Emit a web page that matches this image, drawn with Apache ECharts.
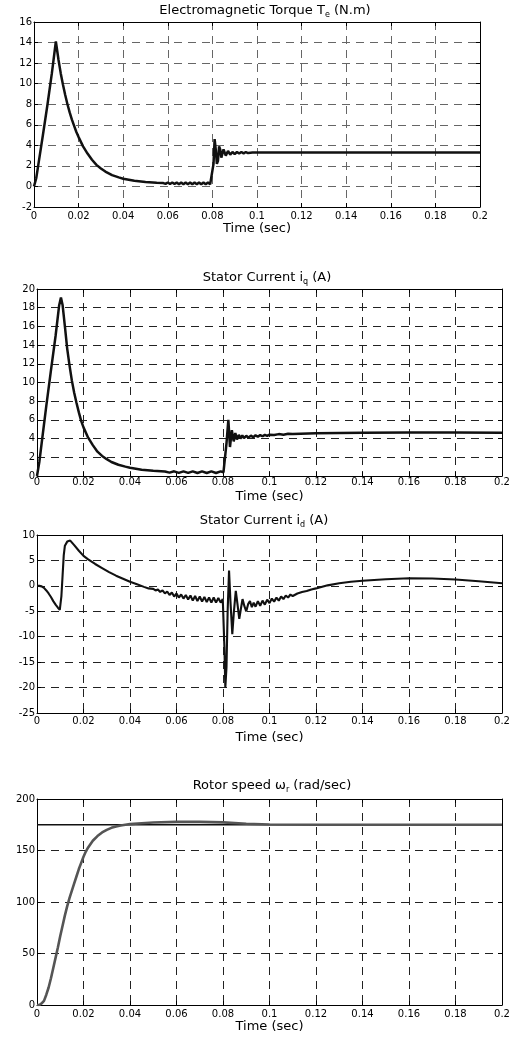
<!DOCTYPE html>
<html><head><meta charset="utf-8">
<script src="https://cdn.jsdelivr.net/npm/echarts@6/dist/echarts.min.js"></script>
<style>html,body{margin:0;padding:0;background:#fff}#c{width:513px;height:1037px}</style>
</head><body><div id="c"></div>
<script>
// ---------- data ----------
const torqueTime = [0,0.001,0.002,0.004,0.006,0.008,0.0098,0.011,0.012,0.013,0.014,0.015,0.016,0.017,0.018,0.019,0.020,0.022,0.024,0.026,0.028,0.030,0.032,0.035,0.038,0.040,0.045,0.050,0.055,0.058,
 0.059,0.060,0.061,0.062,0.063,0.064,0.065,0.066,0.067,0.068,0.069,0.070,0.071,0.072,0.073,0.074,0.075,0.076,0.077,0.078,0.079,0.0797,
 0.0805,0.081,0.0815,0.082,0.0825,0.083,0.0835,0.084,0.0845,0.085,0.0855,0.086,0.0865,0.087,0.0875,0.088,0.0885,0.089,0.090,0.091,0.092,0.093,0.094,0.095,0.096,0.098,0.100,0.120,0.140,0.160,0.180,0.200];
const torqueValue = [0,0.8,2.2,5.0,7.9,11.0,14.1,12.3,11.0,9.9,8.9,8.0,7.2,6.5,5.9,5.3,4.8,3.9,3.2,2.6,2.1,1.75,1.45,1.1,0.88,0.75,0.55,0.43,0.36,0.33,
 0.25,0.38,0.24,0.38,0.23,0.38,0.22,0.38,0.22,0.38,0.22,0.38,0.21,0.38,0.21,0.38,0.21,0.38,0.21,0.38,0.21,0.3,
 2.2,4.6,3.6,2.2,2.5,3.9,3.6,2.8,2.9,3.6,3.5,3.0,3.05,3.45,3.4,3.1,3.15,3.35,3.15,3.35,3.2,3.35,3.22,3.35,3.25,3.3,3.3,3.3,3.3,3.3,3.3,3.3];

const iqTime = [0,0.001,0.002,0.004,0.006,0.008,0.0095,0.0103,0.011,0.012,0.013,0.014,0.015,0.016,0.017,0.018,0.019,0.020,0.022,0.024,0.026,0.028,0.030,0.032,0.035,0.038,0.040,0.045,0.050,0.055,
 0.057,0.059,0.061,0.063,0.065,0.067,0.069,0.071,0.073,0.075,0.077,0.079,0.0802,
 0.0807,0.0815,0.0823,0.083,0.0838,0.0846,0.0853,0.086,0.0868,0.0875,0.0883,0.089,0.090,0.091,0.092,0.093,0.094,0.095,0.096,0.097,0.098,0.099,0.100,0.102,0.104,0.106,0.108,0.110,0.120,0.130,0.140,0.160,0.180,0.200];
const iqValue = [0,1.5,3.5,7.5,11.3,15.0,18.2,19.1,18.3,16.0,13.6,11.8,10.2,8.9,7.8,6.8,5.9,5.2,4.1,3.3,2.6,2.15,1.8,1.5,1.2,1.0,0.88,0.68,0.56,0.48,
 0.36,0.5,0.34,0.5,0.33,0.5,0.32,0.5,0.32,0.5,0.32,0.5,0.4,
 0.6,3.5,6.0,3.1,4.9,3.7,4.6,3.9,4.4,4.0,4.35,4.05,4.3,4.1,4.32,4.15,4.35,4.2,4.38,4.25,4.4,4.3,4.42,4.38,4.48,4.42,4.52,4.5,4.56,4.6,4.62,4.64,4.64,4.63];

const idTime = [0,0.001,0.002,0.003,0.004,0.005,0.006,0.007,0.008,0.009,0.0098,0.0105,0.011,0.0115,0.012,0.013,0.0143,0.016,0.018,0.020,0.022,0.025,0.028,0.031,0.034,0.037,0.040,0.043,0.046,0.048,
 0.050,0.051,0.052,0.053,0.054,0.055,0.056,0.057,0.058,0.059,0.060,0.061,0.062,0.063,0.064,0.065,0.066,0.067,0.068,0.069,0.070,0.071,0.072,0.073,0.074,0.075,0.076,0.077,0.078,0.079,0.0799,
 0.0806,0.081,0.0815,0.082,0.0826,0.0832,0.084,0.0847,0.0855,0.0862,0.087,0.0877,0.0884,0.0892,0.090,0.0908,0.0916,0.0924,0.0932,0.094,0.095,0.096,0.097,0.098,0.099,0.100,0.101,0.102,0.103,0.104,0.105,0.106,0.107,0.108,0.109,0.110,0.112,0.114,0.116,0.118,0.120,0.125,0.130,0.135,0.140,0.150,0.160,0.170,0.180,0.190,0.200];
const idValue = [0,0,-0.1,-0.4,-0.9,-1.5,-2.2,-3.0,-3.7,-4.3,-4.7,-2.0,2.0,6.0,7.9,8.7,8.9,8.0,6.9,5.9,5.2,4.3,3.5,2.7,2.0,1.4,0.8,0.3,-0.2,-0.5,
 -0.6,-0.9,-0.7,-1.2,-0.9,-1.5,-1.1,-1.8,-1.3,-2.1,-1.5,-2.3,-1.7,-2.5,-1.8,-2.7,-1.9,-2.9,-2.0,-3.0,-2.1,-3.1,-2.2,-3.2,-2.3,-3.3,-2.3,-3.3,-2.4,-3.3,-2.6,
 -12,-20,-16,-5,3.0,-3,-9.5,-5,-1.0,-3.5,-6.5,-4.5,-2.6,-4.0,-5.0,-3.6,-3.0,-4.2,-3.3,-4.1,-3.0,-3.9,-2.9,-3.7,-2.7,-3.4,-2.5,-3.1,-2.3,-2.9,-2.1,-2.6,-1.9,-2.3,-1.7,-2.0,-1.5,-1.2,-1.0,-0.7,-0.5,0.1,0.5,0.8,1.0,1.3,1.5,1.45,1.25,0.9,0.5];

const speedTime = [0,0.001,0.002,0.003,0.004,0.005,0.006,0.007,0.008,0.009,0.010,0.011,0.012,0.013,0.014,0.015,0.016,0.017,0.018,0.019,0.020,0.021,0.022,0.024,0.026,0.028,0.030,0.032,0.034,0.036,0.038,0.040,0.045,0.050,0.060,0.070,0.080,0.090,0.100,0.120,0.140,0.160,0.180,0.200];
const speedValue = [0,0,1.5,4,10,17,26,36,46,56,67,77,87,96,104,111,118,125,132,138,144,149,153,159.5,164,167.5,170,172,173.3,174.3,175,175.6,176.5,177.2,177.8,177.8,177.3,176,175.3,175,175,175,175,175];
const speedRefTime = [0,0.2];
const speedRefValue = [175,175];

// ---------- axes / layout ----------
const yRanges = [[-2,16,2],[0,20,2],[-25,10,5],[0,200,50]];
const grids = [
  {left:34, top:22, width:446, height:185},
  {left:37, top:289, width:465, height:187},
  {left:37, top:535, width:465, height:178},
  {left:37, top:799, width:465, height:206}
];
const gridColors = ['#666','#222','#222','#222'];
const xLabelMargins = [4,1,3,4];
const xNameGaps = [15,14,18,13];
const titles = [
  {x:265, y:11, text:'{n|Electromagnetic Torque T}{s|e}{n| (N.m)}'},
  {x:267, y:278, text:'{n|Stator Current i}{s|q}{n| (A)}'},
  {x:264, y:521, text:'{n|Stator Current i}{s|d}{n| (A)}'},
  {x:272, y:786, text:'{n|Rotor speed \u03c9}{s|r}{n| (rad/sec)}'}
];

const FONT = 'DejaVu Sans';
const zip = (t, v) => t.map((x, i) => [x, v[i]]);

const xAxes = [], yAxes = [];
grids.forEach((g, i) => {
  const dash = {show:true, lineStyle:{color:gridColors[i], type:[8,6], width:1}};
  xAxes.push({
    type:'value', gridIndex:i, min:0, max:0.2, interval:0.02, position:'bottom',
    axisLine:{show:true, onZero:false, lineStyle:{color:'#000', width:1}},
    axisTick:{show:true, inside:true, length:4, lineStyle:{color:'#000'}},
    axisLabel:{color:'#000', fontFamily:FONT, fontSize:10, margin:xLabelMargins[i],
      formatter: v => String(+v.toFixed(2))},
    splitLine:dash,
    name:'Time (sec)', nameLocation:'middle', nameGap:xNameGaps[i],
    nameTextStyle:{color:'#000', fontFamily:FONT, fontSize:13}
  });
  xAxes.push({
    type:'value', gridIndex:i, min:0, max:0.2, interval:0.02, position:'top',
    axisLine:{show:true, onZero:false, lineStyle:{color:'#000', width:1}},
    axisTick:{show:true, inside:true, length:4, lineStyle:{color:'#000'}},
    axisLabel:{show:false}, splitLine:{show:false}
  });
  const r = yRanges[i];
  yAxes.push({
    type:'value', gridIndex:i, min:r[0], max:r[1], interval:r[2], position:'left',
    axisLine:{show:true, onZero:false, lineStyle:{color:'#000', width:1}},
    axisTick:{show:true, inside:true, length:4, lineStyle:{color:'#000'}},
    axisLabel:{color:'#000', fontFamily:FONT, fontSize:10, margin:2},
    splitLine:dash
  });
  yAxes.push({
    type:'value', gridIndex:i, min:r[0], max:r[1], interval:r[2], position:'right',
    axisLine:{show:true, onZero:false, lineStyle:{color:'#000', width:1}},
    axisTick:{show:true, inside:true, length:4, lineStyle:{color:'#000'}},
    axisLabel:{show:false}, splitLine:{show:false}
  });
});

function line(idx, data, color, width, name) {
  return {type:'line', name:name, xAxisIndex:idx*2, yAxisIndex:idx*2, data:data,
    showSymbol:false, symbol:'none', smooth:false, clip:true, animation:false,
    lineStyle:{color:color, width:width}, z:3};
}

const series = [
  line(0, zip(torqueTime, torqueValue), '#111', 2.5, 'Te'),
  line(1, zip(iqTime, iqValue), '#111', 2.5, 'iq'),
  line(2, zip(idTime, idValue), '#111', 2.1, 'id'),
  line(3, zip(speedRefTime, speedRefValue), '#111', 1.6, 'ref'),
  line(3, zip(speedTime, speedValue), '#555', 2.6, 'wr')
];

const graphic = titles.map(t => ({
  type:'text', x:t.x, y:t.y, z:10,
  style:{text:t.text, align:'center', verticalAlign:'middle', fill:'#000',
    rich:{
      n:{fontFamily:FONT, fontSize:13, height:15, verticalAlign:'middle', fill:'#000'},
      s:{fontFamily:FONT, fontSize:8, height:8, verticalAlign:'bottom', fill:'#000'}
    }}
}));

const chart = echarts.init(document.getElementById('c'), null, {renderer:'canvas'});
chart.setOption({
  backgroundColor:'#fff',
  animation:false,
  grid: grids.map(g => Object.assign({containLabel:false}, g)),
  xAxis: xAxes,
  yAxis: yAxes,
  series: series,
  graphic: graphic
});
</script>
</body></html>
